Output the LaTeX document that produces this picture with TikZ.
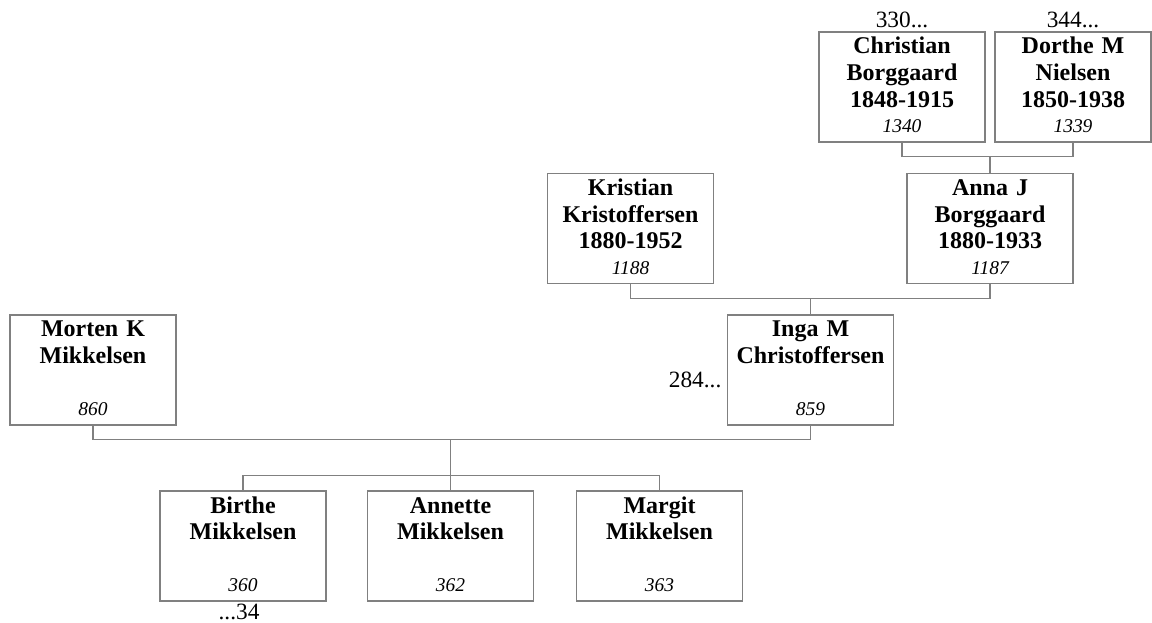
\documentclass[tikz,border=0pt]{standalone}
\usepackage{fontspec}
\setmainfont{Liberation Serif}
\usetikzlibrary{positioning,calc}

\begin{document}
\begin{tikzpicture}[
  x=0.75pt, y=-0.75pt,
  box/.style={draw=black!50, line width=0.8pt, minimum width=124.5pt, minimum height=82.5pt,
    text width=120pt, inner xsep=2pt, inner ysep=4.5pt, text height=12pt, text depth=61.5pt,
    align=center, font=\bfseries\fontsize{18}{20}\selectfont},
  num/.style={anchor=base, inner sep=0pt, font=\itshape\fontsize{14.6}{16}\selectfont},
  more/.style={inner sep=0pt, font=\fontsize{17.5}{19}\selectfont},
  link/.style={draw=black!50, line width=0.8pt}
]
\useasboundingbox (0,0) rectangle (1152,623);

% ---- great-grandparents ----
\node[box] (christian) at (902,87) {Christian\\Borggaard\\1848-1915};
\node[box,minimum width=117pt,text width=113pt] (dorthe) at (1073,87) {Dorthe M\\Nielsen\\1850-1938};
\node[num] (christian-id) at ([yshift=7.5pt]christian.south) {1340};
\node[num] (dorthe-id) at ([yshift=7.5pt]dorthe.south) {1339};
\node[more,anchor=base] (christian-up) at ([yshift=3pt]christian.north) {330...};
\node[more,anchor=base] (dorthe-up) at ([yshift=3pt]dorthe.north) {344...};

% ---- grandparents ----
\node[box] (kristian) at (630.5,228.5) {Kristian\\Kristoffersen\\1880-1952};
\node[box] (anna) at (990,228.5) {Anna J\\Borggaard\\1880-1933};
\node[num] (kristian-id) at ([yshift=7.5pt]kristian.south) {1188};
\node[num] (anna-id) at ([yshift=7.5pt]anna.south) {1187};

% ---- parents ----
\node[box] (morten) at (93,370) {Morten K\\Mikkelsen};
\node[box] (inga) at (810.5,370) {Inga M\\Christoffersen};
\node[num] (morten-id) at ([yshift=7.5pt]morten.south) {860};
\node[num] (inga-id) at ([yshift=7.5pt]inga.south) {859};
\node[more,anchor=base east] (inga-up) at ([xshift=-4pt,yshift=-12.75pt]inga.west) {284...};

% ---- children ----
\node[box] (birthe) at (243,546) {Birthe\\Mikkelsen};
\node[box] (annette) at (450.5,546) {Annette\\Mikkelsen};
\node[box] (margit) at (659.5,546) {Margit\\Mikkelsen};
\node[num] (birthe-id) at ([yshift=7.5pt]birthe.south) {360};
\node[num] (annette-id) at ([yshift=7.5pt]annette.south) {362};
\node[num] (margit-id) at ([yshift=7.5pt]margit.south) {363};
\node[more,anchor=base] (birthe-down) at ([xshift=-3pt,yshift=-13.5pt]birthe.south) {...34};

% ---- connectors ----
\path (anna.north) ++(0,-16) coordinate (jA);
\draw[link] (christian.south) |- (jA) -| (dorthe.south);
\draw[link] (jA) -- (anna.north);

\path (inga.north) ++(0,-16) coordinate (jI);
\draw[link] (kristian.south) |- (jI) -| (anna.south);
\draw[link] (jI) -- (inga.north);

\path (annette.north) ++(0,-51) coordinate (jM);
\path (annette.north) ++(0,-15) coordinate (jC);
\draw[link] (morten.south) |- (jM) -| (inga.south);
\draw[link] (jM) -- (jC);
\draw[link] (birthe.north) |- (jC) -| (margit.north);
\draw[link] (jC) -- (annette.north);
\end{tikzpicture}
\end{document}
